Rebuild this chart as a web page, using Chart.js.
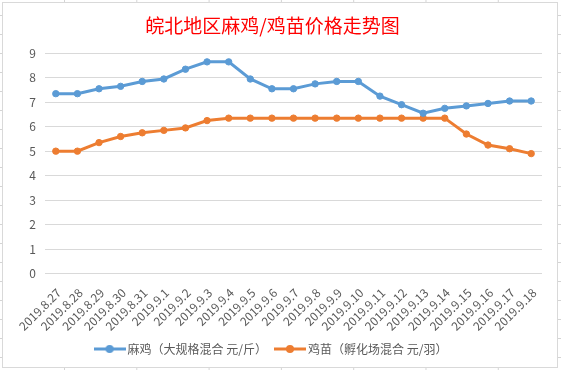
<!DOCTYPE html>
<html>
<head>
<meta charset="utf-8">
<script src="https://cdn.jsdelivr.net/npm/chart.js@4"></script>
<style>
    html, body {
        margin: 0;
        width: 561px;
        height: 370px;
        overflow: hidden;
    }
    body {
        /* spreadsheet cells behind the chart */
        background-color: #fff;
        background-image:
            linear-gradient(to right, #d4d4d4 1px, transparent 1px),
            linear-gradient(to bottom, #d4d4d4 1px, transparent 1px);
        background-size: 72.3px 19px;
        background-position: 64px 15px;
    }
    #chartBox {
        position: absolute;
        left: 2px;
        top: 2px;
        width: 554px;
        height: 364px;
        border: 1px solid #d9d9d9;
        background: #fff;
    }
</style>
</head>
<body>
<div id="chartBox">
    <canvas id="priceChart" width="554" height="364"></canvas>
</div>
<script>
// Chart data
const chartTitle = '皖北地区麻鸡/鸡苗价格走势图';
const dates = [
    '2019.8.27', '2019.8.28', '2019.8.29', '2019.8.30', '2019.8.31',
    '2019.9.1', '2019.9.2', '2019.9.3', '2019.9.4', '2019.9.5', '2019.9.6',
    '2019.9.7', '2019.9.8', '2019.9.9', '2019.9.10', '2019.9.11', '2019.9.12',
    '2019.9.13', '2019.9.14', '2019.9.15', '2019.9.16', '2019.9.17', '2019.9.18'
];
const seriesNames = ['麻鸡（大规格混合 元/斤）', '鸡苗（孵化场混合 元/羽）'];
const chickenPrices = [
    7.35, 7.35, 7.55, 7.65, 7.85, 7.95, 8.35, 8.65, 8.65, 7.95, 7.55, 7.55,
    7.75, 7.85, 7.85, 7.25, 6.9, 6.55, 6.75, 6.85, 6.95, 7.05, 7.05
];
const chickPrices = [
    5.0, 5.0, 5.35, 5.6, 5.75, 5.85, 5.95, 6.25, 6.35, 6.35, 6.35, 6.35,
    6.35, 6.35, 6.35, 6.35, 6.35, 6.35, 6.35, 5.7, 5.25, 5.1, 4.9
];
const yTicks = [0, 1, 2, 3, 4, 5, 6, 7, 8, 9];

const blue = '#5b9bd5';
const orange = '#ed7d31';
const textGray = '#595959';
const font = '"Noto Sans CJK SC", "Noto Sans", sans-serif';

// Excel style legend marker: a short line with a dot in the middle
function makeMarker(color) {
    const c = document.createElement('canvas');
    c.width = 32;
    c.height = 10;
    const g = c.getContext('2d');
    g.strokeStyle = color;
    g.lineWidth = 3;
    g.beginPath();
    g.moveTo(0, 5);
    g.lineTo(32, 5);
    g.stroke();
    g.fillStyle = color;
    g.beginPath();
    g.arc(16, 5, 4, 0, Math.PI * 2);
    g.fill();
    return c;
}

function makeDataset(label, data, color) {
    return {
        label: label,
        data: data,
        borderColor: color,
        backgroundColor: color,
        borderWidth: 3,
        pointRadius: 3.2,
        pointBorderWidth: 1,
        pointBackgroundColor: color,
        pointBorderColor: color,
        tension: 0
    };
}

const ctx = document.getElementById('priceChart').getContext('2d');
const markers = [makeMarker(blue), makeMarker(orange)];

new Chart(ctx, {
    type: 'line',
    data: {
        labels: dates,
        datasets: [
            makeDataset(seriesNames[0], chickenPrices, blue),
            makeDataset(seriesNames[1], chickPrices, orange)
        ]
    },
    options: {
        responsive: false,
        animation: false,
        layout: {
            padding: { left: 0, right: 15, top: 0, bottom: 2 }
        },
        plugins: {
            title: {
                display: true,
                text: chartTitle,
                color: '#ff0000',
                font: { family: font, size: 19, weight: 'normal', lineHeight: 1.2 },
                padding: { top: 11, bottom: 16.5 }
            },
            legend: {
                position: 'bottom',
                labels: {
                    color: textGray,
                    font: { family: font, size: 12 },
                    usePointStyle: true,
                    pointStyleWidth: 24,
                    padding: 11,
                    generateLabels: function (chart) {
                        const items = Chart.defaults.plugins.legend.labels.generateLabels(chart);
                        items.forEach((item, i) => {
                            item.pointStyle = markers[i];
                        });
                        return items;
                    }
                }
            },
            tooltip: { enabled: false }
        },
        scales: {
            x: {
                offset: true,
                grid: { display: false },
                border: { display: false },
                ticks: {
                    color: textGray,
                    font: { family: font, size: 12 },
                    autoSkip: false,
                    maxRotation: 45,
                    minRotation: 45,
                    padding: 4,
                    labelOffset: 3
                },
                afterFit: function (scale) {
                    scale.height = 58.5;
                }
            },
            y: {
                min: 0,
                max: 9,
                grid: { color: '#d9d9d9', lineWidth: 1, drawTicks: false },
                border: { display: false },
                afterBuildTicks: function (scale) {
                    scale.ticks = yTicks.map(v => ({ value: v }));
                },
                ticks: {
                    color: textGray,
                    font: { family: font, size: 12 },
                    padding: 9
                },
                afterFit: function (scale) {
                    scale.width = 42;
                }
            }
        }
    }
});
</script>
</body>
</html>
